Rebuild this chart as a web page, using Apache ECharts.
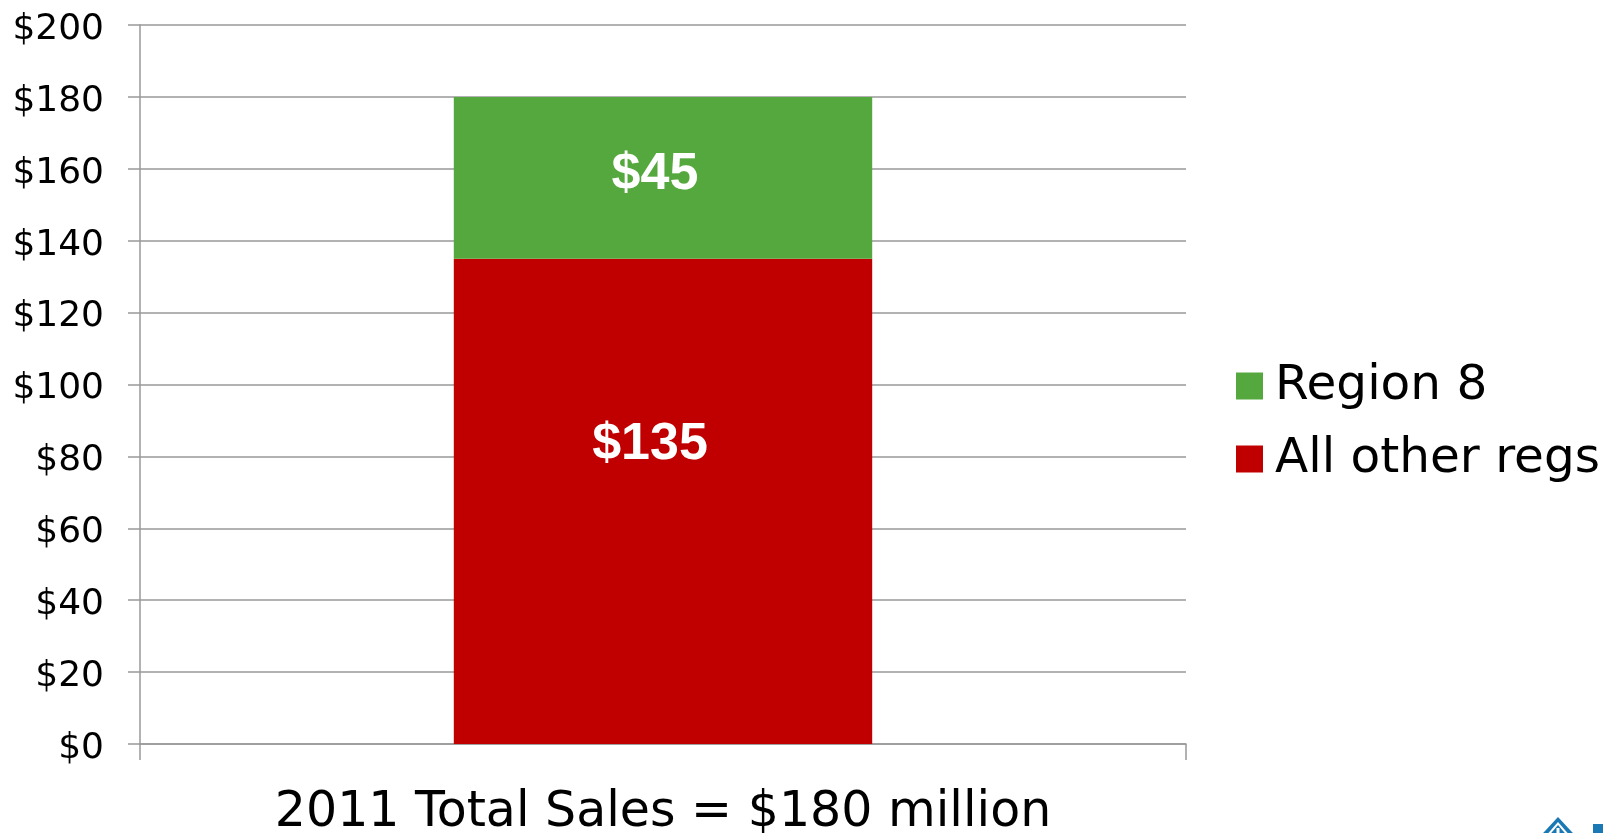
<!DOCTYPE html>
<html>
<head>
<meta charset="utf-8">
<script src="https://cdn.jsdelivr.net/npm/echarts@6/dist/echarts.min.js"></script>
<style>
html,body{margin:0;padding:0;background:#fff;}
#chart{width:1609px;height:833px;}
</style>
</head>
<body>
<div id="chart"></div>
<script>
const categories = ['2011 Total Sales = $180 million'];
const otherRegs = [135];
const region8 = [45];
const seriesNames = ['Region 8', 'All other regs'];

const chart = echarts.init(document.getElementById('chart'));
const grey = '#999999';
chart.setOption({
  animation: false,
  backgroundColor: '#ffffff',
  grid: { left: 140, right: 423, top: 25, bottom: 89, containLabel: false, outerBoundsMode: 'none' },
  legend: {
    orient: 'vertical',
    left: 1231,
    top: 356,
    itemWidth: 27,
    itemHeight: 27,
    itemGap: 23,
    icon: 'rect',
    data: seriesNames,
    textStyle: { fontFamily: 'DejaVu Sans', fontSize: 48.5, color: '#000', lineHeight: 50, padding: [0,0,0,7] }
  },
  xAxis: {
    type: 'category',
    data: categories,
    axisLine: { lineStyle: { color: grey, width: 1.5 } },
    axisTick: { show: true, length: 16, lineStyle: { color: grey, width: 1.5 } },
    axisLabel: { fontFamily: 'DejaVu Sans', fontSize: 49, color: '#000', margin: 45, lineHeight: 49 }
  },
  yAxis: {
    type: 'value',
    min: 0, max: 200, interval: 20,
    axisLine: { show: true, lineStyle: { color: grey, width: 1.5 } },
    axisTick: { show: true, length: 12, lineStyle: { color: grey, width: 1.5 } },
    splitLine: { lineStyle: { color: grey, width: 1.5 } },
    axisLabel: {
      fontFamily: 'DejaVu Sans', fontSize: 36, color: '#000', margin: 36,
      formatter: v => '{a|$' + v + '}',
      rich: { a: { fontFamily: 'DejaVu Sans', fontSize: 36, color: '#000', padding: [9, 0, 0, 0] } }
    }
  },
  series: [
    {
      name: seriesNames[1], type: 'bar', stack: 'total', data: otherRegs, barWidth: '40%',
      itemStyle: { color: '#C00000' },
      label: { show: true, position: 'inside', offset: [-13, -57], formatter: p => '$' + p.value,
               fontFamily: 'Liberation Sans', fontWeight: 'bold', fontSize: 52, color: '#fff' }
    },
    {
      name: seriesNames[0], type: 'bar', stack: 'total', data: region8, barWidth: '40%',
      itemStyle: { color: '#55A83D' },
      label: { show: true, position: 'inside', offset: [-8, -3], formatter: p => '$' + p.value,
               fontFamily: 'Liberation Sans', fontWeight: 'bold', fontSize: 52, color: '#fff' }
    }
  ],
  graphic: [
    { type: 'polygon', shape: { points: [[1558,817],[1584,845],[1532,845]] }, style: { fill: '#1a78b4' } },
    { type: 'polygon', shape: { points: [[1558,822],[1578,845],[1538,845]] }, style: { fill: '#ffffff' } },
    { type: 'polygon', shape: { points: [[1558,825],[1575,845],[1541,845]] }, style: { fill: '#1a78b4' } },
    { type: 'rect', shape: { x: 1556.5, y: 828, width: 3, height: 10 }, style: { fill: '#ffffff' } },
    { type: 'rect', shape: { x: 1593, y: 824, width: 10, height: 12 }, style: { fill: '#1a78b4' } }
  ]
});
</script>
</body>
</html>
